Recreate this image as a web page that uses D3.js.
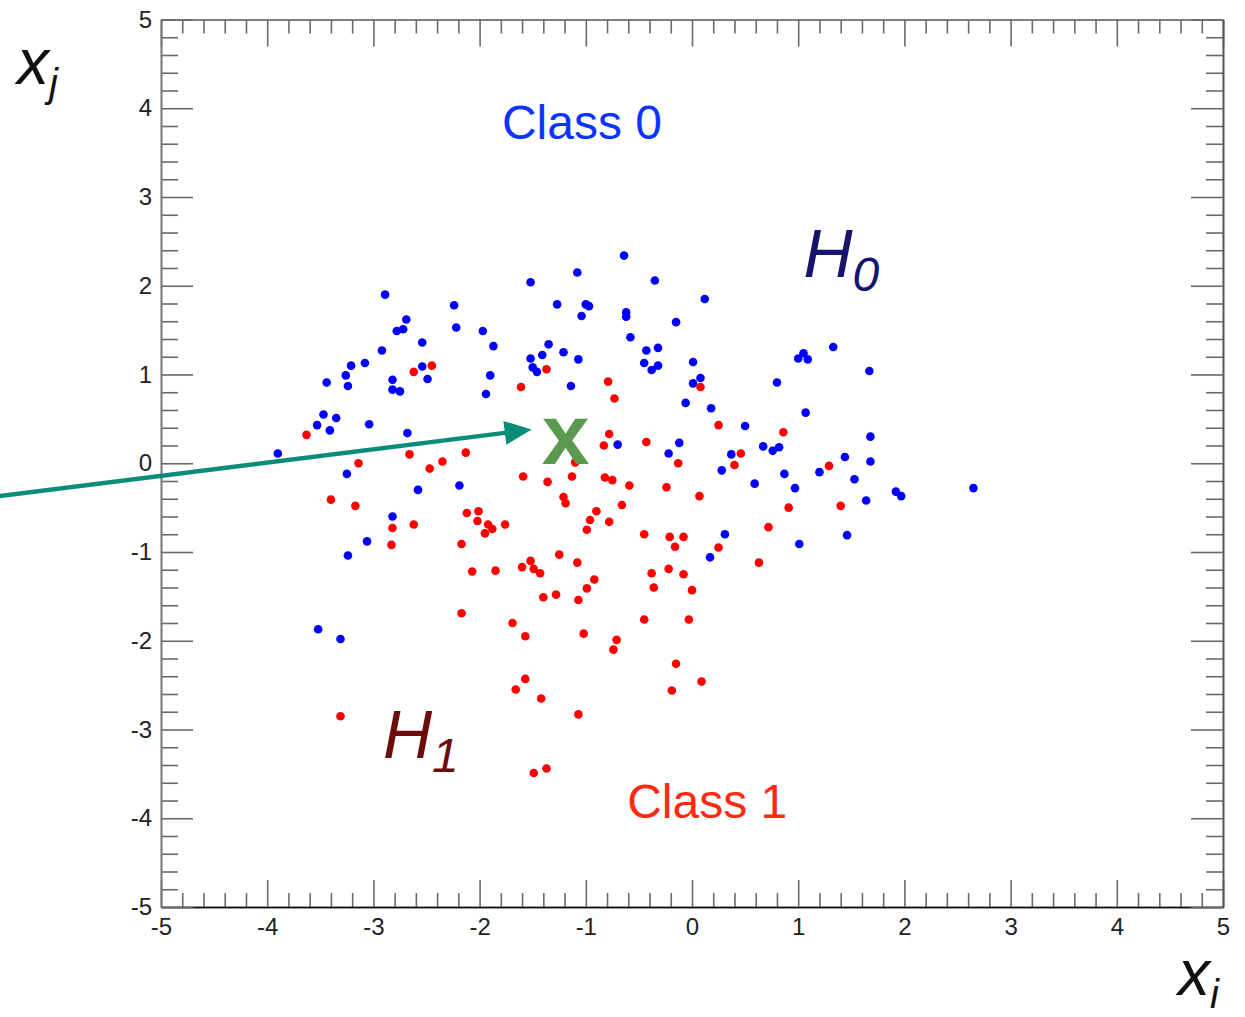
<!DOCTYPE html>
<html>
<head>
<meta charset="utf-8">
<script src="https://cdn.jsdelivr.net/npm/d3@7"></script>
<style>
  html, body { margin: 0; padding: 0; background: #fff; }
  svg { display: block; font-family: "Liberation Sans", Arial, Helvetica, sans-serif; }
</style>
</head>
<body>
<svg id="chart" width="1245" height="1017"></svg>
<script>
// tick values
const xTicks = [-5, -4, -3, -2, -1, 0, 1, 2, 3, 4, 5]
const yTicks = [-5, -4, -3, -2, -1, 0, 1, 2, 3, 4, 5]

// class 0 (blue) points, [x_i, x_j]
const class0 = [
  [-2.89, 1.90], [-2.24, 1.78], [-2.69, 1.62], [-2.78, 1.49], [-2.72, 1.51], [-2.22, 1.53], [-1.97, 1.49], [-2.54, 1.36],
  [-1.87, 1.32], [-2.92, 1.27], [-1.52, 2.04], [-1.27, 1.79], [-1.35, 1.34], [-1.41, 1.22], [-1.52, 1.18], [-1.50, 1.08],
  [-1.46, 1.03], [-3.21, 1.10], [-3.08, 1.13], [-3.26, 0.99], [-3.24, 0.87], [-3.44, 0.91], [-2.54, 1.09], [-2.49, 0.95],
  [-2.82, 0.94], [-2.82, 0.83], [-2.75, 0.81], [-1.90, 0.99], [-1.94, 0.78], [-3.47, 0.55], [-3.35, 0.51], [-3.53, 0.43],
  [-3.41, 0.37], [-3.04, 0.44], [-2.68, 0.34], [-3.90, 0.11],
  [-0.64, 2.34], [-1.08, 2.15], [-0.35, 2.06], [0.12, 1.85], [-1.00, 1.79], [-0.97, 1.77], [-1.04, 1.66], [-0.62, 1.70],
  [-0.62, 1.65], [-0.15, 1.59], [-0.58, 1.42], [-1.21, 1.25], [-1.07, 1.17], [-0.43, 1.27], [-0.32, 1.30], [-0.45, 1.13],
  [-0.38, 1.05], [-0.32, 1.10], [0.01, 1.14], [-1.14, 0.87], [0.01, 0.90], [0.08, 0.96], [-0.06, 0.68], [0.18, 0.62],
  [0.50, 0.42],
  [1.33, 1.31], [1.00, 1.18], [1.05, 1.24], [1.09, 1.17], [1.67, 1.04], [0.80, 0.91], [1.07, 0.57], [1.68, 0.30],
  [0.67, 0.19], [0.76, 0.14], [0.82, 0.18], [1.44, 0.07], [1.68, 0.02], [0.87, -0.12], [1.20, -0.10], [0.59, -0.23],
  [0.97, -0.28], [1.53, -0.18], [1.64, -0.42], [1.92, -0.32], [1.97, -0.37], [2.65, -0.28],
  [-3.25, -0.12], [-2.58, -0.30], [-2.19, -0.25], [-2.82, -0.60], [-3.06, -0.88], [-3.24, -1.04],
  [-0.70, 0.21], [-0.12, 0.23], [-0.22, 0.11], [0.37, 0.10], [0.28, -0.08], [0.31, -0.80], [0.17, -1.06],
  [1.01, -0.91], [1.46, -0.81], [-3.52, -1.87], [-3.31, -1.98]
]

// class 1 (red) points, [x_i, x_j]
const class1 = [
  [-2.62, 1.03], [-2.45, 1.10], [-1.37, 1.06], [-1.61, 0.86], [-3.63, 0.32], [-2.66, 0.10], [-2.13, 0.12], [-2.35, 0.02],
  [-0.79, 0.92], [-0.73, 0.73], [0.08, 0.86], [0.25, 0.43], [0.86, 0.35], [0.46, 0.11], [1.29, -0.03], [0.91, -0.50],
  [1.40, -0.48],
  [-3.14, 0.00], [-2.47, -0.06], [-3.40, -0.41], [-3.17, -0.48], [-2.62, -0.69], [-2.82, -0.73], [-2.83, -0.92],
  [-2.12, -0.56], [-2.01, -0.54], [-2.02, -0.65], [-1.92, -0.69], [-1.88, -0.74], [-1.95, -0.79], [-1.76, -0.69],
  [-2.17, -0.91], [-2.07, -1.22], [-1.85, -1.21], [-2.17, -1.69],
  [-0.78, 0.33], [-0.83, 0.20], [-0.43, 0.24], [-0.13, 0.00], [0.40, -0.02], [-1.10, 0.01], [-1.59, -0.15],
  [-1.36, -0.21], [-1.13, -0.15], [-0.82, -0.16], [-0.75, -0.19], [-0.59, -0.25], [-0.24, -0.27], [0.07, -0.37],
  [-1.21, -0.38], [-1.19, -0.45], [-0.66, -0.47], [-0.90, -0.54], [-0.96, -0.64], [-0.99, -0.75], [-0.78, -0.66],
  [-0.45, -0.80], [-0.21, -0.83], [-0.16, -0.94], [-0.08, -0.83], [0.25, -0.95], [-1.25, -1.03], [-1.08, -1.12],
  [-1.60, -1.17], [-1.52, -1.10], [-1.49, -1.19], [-1.43, -1.24], [-0.38, -1.24], [-0.22, -1.19], [-0.08, -1.25],
  [-0.36, -1.40], [0.00, -1.43], [-0.92, -1.31], [-0.99, -1.41], [-1.40, -1.51], [-1.28, -1.48], [-1.07, -1.54],
  [-1.69, -1.80], [-1.57, -1.95], [-1.02, -1.92], [-0.45, -1.76], [-0.03, -1.76], [-0.71, -1.99], [-0.74, -2.10],
  [-0.15, -2.26], [0.09, -2.46], [-0.19, -2.56], [-1.57, -2.43], [-1.66, -2.55], [-1.42, -2.65], [-1.07, -2.83],
  [-1.37, -3.44], [-1.49, -3.49], [-3.31, -2.85], [0.72, -0.72], [0.63, -1.12]
]

// the test point and the arrow that points at it
const testPoint = [-1.19, 0.40]
const arrowFrom = [-6.52, -0.37]
const arrowTo = [-1.51, 0.38]

const svg = d3.select("#chart")
const x = d3.scaleLinear().domain([-5, 5]).range([161, 1223])
const y = d3.scaleLinear().domain([-5, 5]).range([907, 19.5])

const minorX = d3.range(-5, 5.001, 0.2).map(v => +v.toFixed(1)).filter(v => !xTicks.includes(v))
const minorY = d3.range(-5, 5.001, 0.2).map(v => +v.toFixed(1)).filter(v => !yTicks.includes(v))

// plain hyphen minus, like the original
const fmt = d => String(d)

function styleAxis(g, color) {
  g.select(".domain").attr("stroke", color).attr("stroke-width", 1.6)
  g.selectAll(".tick line").attr("stroke", "#6a6a6a").attr("stroke-width", 1.6)
  g.selectAll(".tick text")
    .attr("font-size", 24)
    .attr("fill", "#222")
    .attr("font-family", "'Liberation Sans', Arial, sans-serif")
}

// minor ticks, all four sides
svg.append("g").attr("transform", `translate(0,${y(-5)})`)
  .call(d3.axisBottom(x).tickValues(minorX).tickSize(-14).tickSizeOuter(0).tickFormat(""))
  .call(g => styleAxis(g, "#111"))
svg.append("g").attr("transform", `translate(0,${y(5)})`)
  .call(d3.axisTop(x).tickValues(minorX).tickSize(-14).tickSizeOuter(0).tickFormat(""))
  .call(g => styleAxis(g, "#777"))
svg.append("g").attr("transform", `translate(${x(-5)},0)`)
  .call(d3.axisLeft(y).tickValues(minorY).tickSize(-17).tickSizeOuter(0).tickFormat(""))
  .call(g => styleAxis(g, "#777"))
svg.append("g").attr("transform", `translate(${x(5)},0)`)
  .call(d3.axisRight(y).tickValues(minorY).tickSize(-17).tickSizeOuter(0).tickFormat(""))
  .call(g => styleAxis(g, "#555"))

// major ticks with labels
svg.append("g").attr("transform", `translate(0,${y(-5)})`)
  .call(d3.axisBottom(x).tickValues(xTicks).tickSize(-27).tickSizeOuter(0).tickPadding(11).tickFormat(fmt))
  .call(g => styleAxis(g, "#111"))
svg.append("g").attr("transform", `translate(0,${y(5)})`)
  .call(d3.axisTop(x).tickValues(xTicks).tickSize(-27).tickSizeOuter(0).tickFormat(""))
  .call(g => styleAxis(g, "#777"))
svg.append("g").attr("transform", `translate(${x(-5)},0)`)
  .call(d3.axisLeft(y).tickValues(yTicks).tickSize(-32).tickSizeOuter(0).tickPadding(9).tickFormat(fmt))
  .call(g => styleAxis(g, "#777"))
svg.append("g").attr("transform", `translate(${x(5)},0)`)
  .call(d3.axisRight(y).tickValues(yTicks).tickSize(-32).tickSizeOuter(0).tickFormat(""))
  .call(g => styleAxis(g, "#555"))

// points
const pts = svg.append("g")
pts.selectAll("circle.c0").data(class0).join("circle")
  .attr("class", "c0")
  .attr("cx", d => x(d[0])).attr("cy", d => y(d[1]))
  .attr("r", 4.3).attr("fill", "#0000ff")
pts.selectAll("circle.c1").data(class1).join("circle")
  .attr("class", "c1")
  .attr("cx", d => x(d[0])).attr("cy", d => y(d[1]))
  .attr("r", 4.3).attr("fill", "#ff0000")

// class labels
svg.append("text").attr("x", x(-1.79)).attr("y", y(3.65))
  .attr("font-size", 48).attr("fill", "#0b35ff").text("Class 0")
svg.append("text").attr("x", x(-0.61)).attr("y", y(-4.0))
  .attr("font-size", 48).attr("fill", "#ff2a10").text("Class 1")

// hypothesis labels
function hyp(px, py, sub, color) {
  const t = svg.append("text").attr("x", x(px)).attr("y", y(py))
    .attr("font-size", 68).attr("font-style", "italic").attr("fill", color)
  t.append("tspan").text("H")
  t.append("tspan").attr("font-size", 48).attr("dy", 14).text(sub)
}
hyp(1.05, 2.1, "0", "#15156e")
hyp(-2.91, -3.32, "1", "#6e0b0b")

// axis titles
function axTitle(px, py, sub) {
  const t = svg.append("text").attr("x", px).attr("y", py)
    .attr("font-size", 64).attr("font-style", "italic").attr("fill", "#111")
  t.append("tspan").text("x")
  t.append("tspan").attr("font-size", 40).attr("dy", 13).text(sub)
}
axTitle(17, 84, "j")
axTitle(1178, 995, "i")

// arrow
const ax0 = x(arrowFrom[0]), ay0 = y(arrowFrom[1])
const ax1 = x(arrowTo[0]), ay1 = y(arrowTo[1])
const ang = Math.atan2(ay1 - ay0, ax1 - ax0)
const headLen = 27, headHalf = 12
const bx = ax1 - headLen * Math.cos(ang), by = ay1 - headLen * Math.sin(ang)
svg.append("line")
  .attr("x1", ax0).attr("y1", ay0).attr("x2", bx + 2 * Math.cos(ang)).attr("y2", by + 2 * Math.sin(ang))
  .attr("stroke", "#0a8c78").attr("stroke-width", 4.5)
svg.append("polygon")
  .attr("points", [
    [ax1, ay1],
    [bx + headHalf * Math.sin(ang), by - headHalf * Math.cos(ang)],
    [bx - headHalf * Math.sin(ang), by + headHalf * Math.cos(ang)]
  ].map(p => p.join(",")).join(" "))
  .attr("fill", "#0a8c78")

// test point marker
svg.append("text").attr("x", x(testPoint[0])).attr("y", y(testPoint[1]) + 36)
  .attr("text-anchor", "middle").attr("font-size", 86).attr("font-weight", "bold")
  .attr("fill", "#5a9a4f").text("x")
</script>
</body>
</html>
